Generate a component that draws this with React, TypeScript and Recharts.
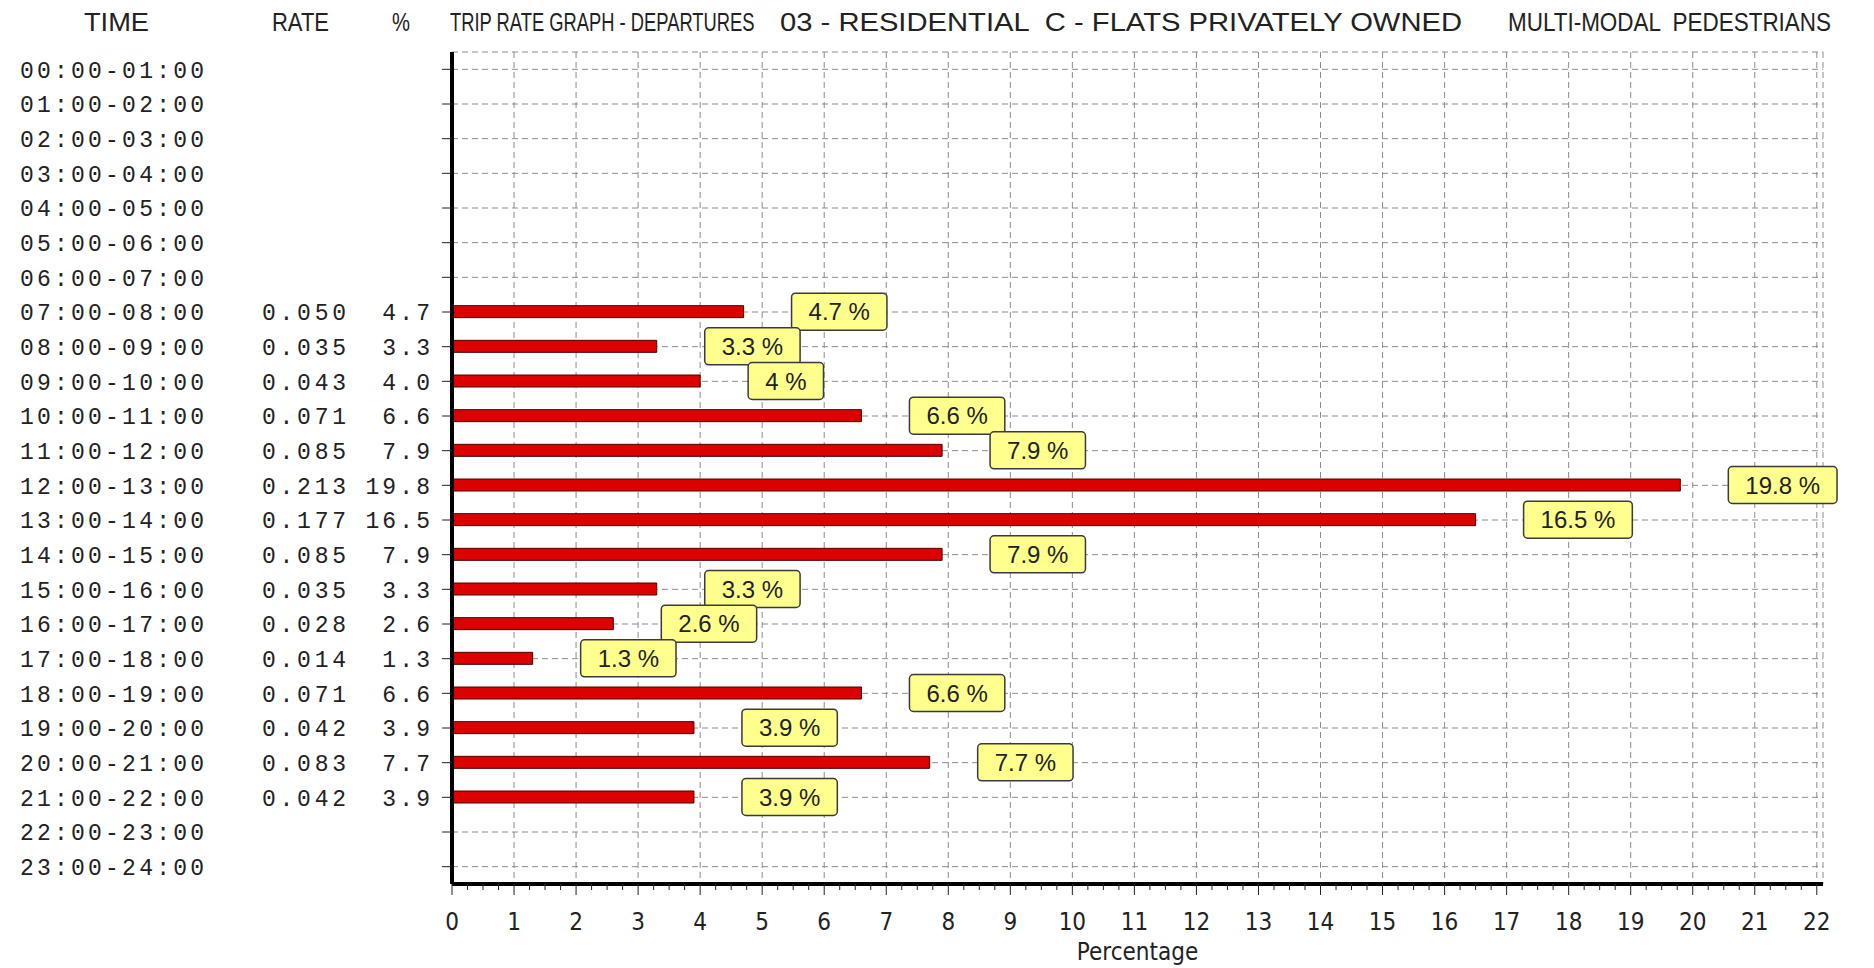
import React from 'react';
import { BarChart, Bar, XAxis, YAxis, CartesianGrid, LabelList, Customized } from 'recharts';

// hourly slots, rate per unit and share of the day (%)
const timeSlots = [
  '00:00-01:00', '01:00-02:00', '02:00-03:00', '03:00-04:00', '04:00-05:00', '05:00-06:00',
  '06:00-07:00', '07:00-08:00', '08:00-09:00', '09:00-10:00', '10:00-11:00', '11:00-12:00',
  '12:00-13:00', '13:00-14:00', '14:00-15:00', '15:00-16:00', '16:00-17:00', '17:00-18:00',
  '18:00-19:00', '19:00-20:00', '20:00-21:00', '21:00-22:00', '22:00-23:00', '23:00-24:00'
];

const tripRates = [
  null, null, null, null, null, null, null,
  0.050, 0.035, 0.043, 0.071, 0.085, 0.213, 0.177, 0.085, 0.035, 0.028, 0.014, 0.071, 0.042, 0.083, 0.042,
  null, null
];

const tripPercents = [
  null, null, null, null, null, null, null,
  4.7, 3.3, 4.0, 6.6, 7.9, 19.8, 16.5, 7.9, 3.3, 2.6, 1.3, 6.6, 3.9, 7.7, 3.9,
  null, null
];

const xTicks = [0, 1, 2, 3, 4, 5, 6, 7, 8, 9, 10, 11, 12, 13, 14, 15, 16, 17, 18, 19, 20, 21, 22];
const quarterTicks = Array.from({ length: 89 }, (_, i) => i / 4);

// header pieces: text, left edge, width
const headerParts: [string, number, number][] = [
  ['TIME', 84, 65],
  ['RATE', 272, 57],
  ['%', 392, 18],
  ['TRIP RATE GRAPH - DEPARTURES', 450, 305],
  ['03 - RESIDENTIAL  C - FLATS PRIVATELY OWNED', 780, 682],
  ['MULTI-MODAL  PEDESTRIANS', 1508, 324]
];

const chartData = timeSlots.map((time, i) => ({ time, rate: tripRates[i], pct: tripPercents[i] }));

const NARROW = "'Liberation Sans Narrow', 'DejaVu Sans Condensed', 'Liberation Sans', sans-serif";
const MONO = "'Liberation Mono', 'DejaVu Sans Mono', monospace";
const BADGE_FONT_SIZE = 24;
const HEADER_FONT_SIZE = 25;
const TEXT = '#222';
const PITCH = 16.9; // monospace column pitch

let measureCtx: CanvasRenderingContext2D | null = null;
const measure = (s: string, size: number) => {
  if (!measureCtx) measureCtx = document.createElement('canvas').getContext('2d');
  if (!measureCtx) return s.length * size * 0.55;
  measureCtx.font = `${size}px 'Liberation Sans'`;
  return measureCtx.measureText(s).width;
};

const EmptyTick = () => <g />;

// time / rate / % columns on the left
const RowTick = (props: any) => {
  const { y, payload } = props;
  const i = timeSlots.indexOf(payload.value);
  const rate = tripRates[i];
  const pct = tripPercents[i];
  const pctText = pct != null ? pct.toFixed(1) : '';
  return (
    <g fontFamily={MONO} fontSize={23} fill={TEXT}>
      <text x={20} y={y} dy="0.36em" textLength={184} lengthAdjust="spacing">{payload.value}</text>
      {rate != null && (
        <text x={262} y={y} dy="0.36em" textLength={84} lengthAdjust="spacing">{rate.toFixed(3)}</text>
      )}
      {pct != null && (
        <text x={430} y={y} dy="0.36em" textAnchor="end" textLength={pctText.length * PITCH - 3} lengthAdjust="spacing">
          {pctText}
        </text>
      )}
    </g>
  );
};

// bottom axis: major ticks with numbers, quarter ticks without
const QuarterTick = (props: any) => {
  const { x, y, payload } = props;
  const v = payload.value;
  const major = Math.abs(v - Math.round(v)) < 1e-6;
  return (
    <g>
      <line x1={x} x2={x} y1={y} y2={y + (major ? 11 : 6)} stroke={TEXT} strokeWidth={1} />
      {major && (
        <text x={x} y={y + 46} textAnchor="middle" fontFamily={NARROW} fontSize={24} fill={TEXT}>
          {Math.round(v)}
        </text>
      )}
    </g>
  );
};

const PctBadge = (props: any) => {
  const { x, y, width, height, value } = props;
  if (value == null) return null;
  const label = `${value} %`;
  const w = measure(label, BADGE_FONT_SIZE) + 34;
  const h = 37;
  const bx = x + width + 48;
  const cy = y + height / 2;
  return (
    <g>
      <rect x={bx} y={cy - h / 2} width={w} height={h} rx={4} ry={4} fill="#ffff8e" stroke="#3a3a3a" strokeWidth={1.5} />
      <text x={bx + w / 2} y={cy} dy="0.36em" textAnchor="middle" fontFamily="'Liberation Sans'" fontSize={BADGE_FONT_SIZE} fill={TEXT}>
        {label}
      </text>
    </g>
  );
};

// condensed-looking header: squeeze when too wide, stretch glyphs when too narrow
const Header = () => (
  <g fontFamily="'Liberation Sans', sans-serif" fontSize={HEADER_FONT_SIZE} fill={TEXT}>
    {headerParts.map(([label, left, width]) => {
      const natural = measure(label, HEADER_FONT_SIZE);
      const squeeze = Math.min(1, width / natural);
      return (
        <g key={label} transform={`translate(${left},31) scale(${squeeze},1)`}>
          {squeeze < 1 ? (
            <text x={0} y={0} style={{ whiteSpace: 'pre' }}>{label}</text>
          ) : (
            <text x={0} y={0} textLength={width} lengthAdjust="spacingAndGlyphs" style={{ whiteSpace: 'pre' }}>
              {label}
            </text>
          )}
        </g>
      );
    })}
  </g>
);

export default function App() {
  return (
    <div style={{ position: 'absolute', left: 0, top: 0, width: 1874, height: 968, background: '#fff' }}>
      <BarChart
        width={1874}
        height={968}
        data={chartData}
        layout="vertical"
        margin={{ top: 52, right: 51, bottom: 0, left: 0 }}
        barSize={12}
      >
        <CartesianGrid xAxisId="top" strokeDasharray="6 4" stroke="#8c8c8c" strokeWidth={1} />
        <XAxis
          xAxisId="top"
          orientation="top"
          type="number"
          domain={[0, 22.1]}
          ticks={xTicks}
          allowDataOverflow
          height={0}
          mirror
          tickSize={6}
          tick={<EmptyTick />}
          axisLine={{ stroke: '#222', strokeWidth: 2 }}
          tickLine={{ stroke: '#222' }}
        />
        <XAxis
          xAxisId="main"
          type="number"
          domain={[0, 22.1]}
          ticks={quarterTicks}
          allowDataOverflow
          interval={0}
          height={84}
          tickSize={0}
          tickMargin={0}
          tickLine={false}
          tick={<QuarterTick />}
          axisLine={{ stroke: '#000', strokeWidth: 4 }}
          label={{ value: 'Percentage', position: 'insideBottom', offset: 8, fontFamily: NARROW, fontSize: 24, fill: TEXT }}
        />
        <YAxis
          type="category"
          dataKey="time"
          width={452}
          interval={0}
          tickSize={10}
          tick={<RowTick />}
          axisLine={{ stroke: '#000', strokeWidth: 4 }}
          tickLine={{ stroke: '#222' }}
        />
        <YAxis
          yAxisId="right"
          orientation="right"
          type="category"
          dataKey="time"
          width={0}
          mirror
          interval={0}
          tickSize={6}
          tick={<EmptyTick />}
          axisLine={{ stroke: '#222', strokeWidth: 2 }}
          tickLine={{ stroke: '#222' }}
        />
        <Bar xAxisId="main" dataKey="pct" fill="#dd0000" stroke="#4a0000" strokeWidth={1} isAnimationActive={false}>
          <LabelList dataKey="pct" content={<PctBadge />} />
        </Bar>
        <Customized component={<Header />} />
      </BarChart>
    </div>
  );
}
